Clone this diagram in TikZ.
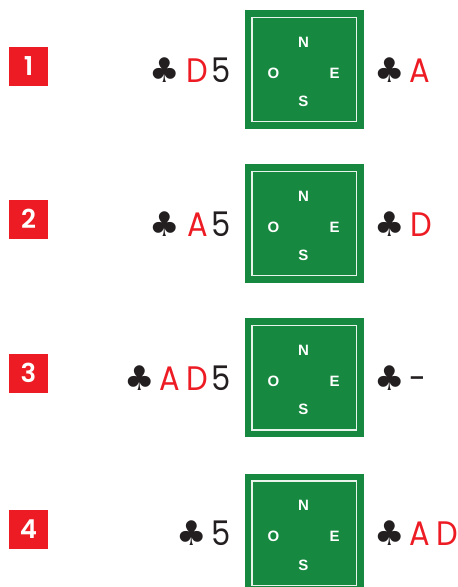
\documentclass[tikz,border=0pt]{standalone}
\usepackage{fontspec}
\setmainfont{Poppins}[FakeStretch=0.9]
\newfontfamily\boldf{Poppins SemiBold}
\newfontfamily\compf{Liberation Sans}
\newfontfamily\clubf{DejaVu Sans}
\definecolor{cred}{HTML}{ED1C24}
\definecolor{felt}{HTML}{16883F}
\definecolor{ink}{HTML}{231F20}
\begin{document}
\begin{tikzpicture}[x=1pt,y=-1pt,
  numbox/.style={fill=cred,minimum size=39pt,inner sep=0pt,text=white,font=\boldf\fontsize{26}{26}\selectfont},
  board/.style={fill=felt,minimum size=119pt,inner sep=0pt},
  frame/.style={draw=white!90!felt,line width=1.4pt},
  compass/.style={text=white,font=\compf\bfseries\fontsize{15}{15}\selectfont,inner sep=0pt},
  glyph/.style={anchor=base,inner sep=0pt,text=ink,font=\fontsize{34}{34}\selectfont},
  redg/.style={glyph,text=cred},
  club/.style={anchor=base,inner sep=0pt,text=ink,font=\clubf\fontsize{34}{34}\selectfont}]
\useasboundingbox (0,0) rectangle (458,587);
\clip (0,0) rectangle (458,587);
\foreach \i/\cy/\by in {1/69.5/66.5, 2/223.5/219, 3/377.8/373, 4/533/529}{
  \node[numbox] (n\i) at (28.5,\by) {\i};
  \node[board] (b\i) at (304,\cy) {};
  \draw[frame] ([shift={(7.5,7.5)}]b\i.north west) rectangle ([shift={(-7.5,-7.5)}]b\i.south east);
  \node[compass] (bn\i) at ([shift={(-0.5,-27.5)}]b\i.center) {N};
  \node[compass] (bs\i) at ([shift={(-0.5,32)}]b\i.center) {S};
  \node[compass] (bo\i) at ([shift={(-30.5,3.8)}]b\i.center) {O};
  \node[compass] (be\i) at ([shift={(30.5,3.8)}]b\i.center) {E};
}
% row 1
\node[club] (l1c) at (165,82.3) {♣};
\node[redg] (l1d) at (197.5,82.3) {D};
\node[glyph] (l15) at (221,82.3) {5};
\node[club] (r1c) at (390,82.3) {♣};
\node[redg] (r1a) at (420,82.3) {A};
% row 2
\node[club] (l2c) at (165,236.3) {♣};
\node[redg] (l2a) at (197.5,236.3) {A};
\node[glyph] (l25) at (221,236.3) {5};
\node[club] (r2c) at (390,236.3) {♣};
\node[redg] (r2d) at (421,236.3) {D};
% row 3
\node[club] (l3c) at (140,390) {♣};
\node[redg] (l3a) at (170,390) {A};
\node[redg] (l3d) at (197.5,390) {D};
\node[glyph] (l35) at (221,390) {5};
\node[club] (r3c) at (390,390) {♣};
\node[glyph] (r3x) at (417.5,390) {-};
% row 4
\node[club] (l4c) at (191.5,545.3) {♣};
\node[glyph] (l45) at (221,545.3) {5};
\node[club] (r4c) at (390,545.3) {♣};
\node[redg] (r4a) at (420,545.3) {A};
\node[redg] (r4d) at (447,545.3) {D};
\end{tikzpicture}
\end{document}
